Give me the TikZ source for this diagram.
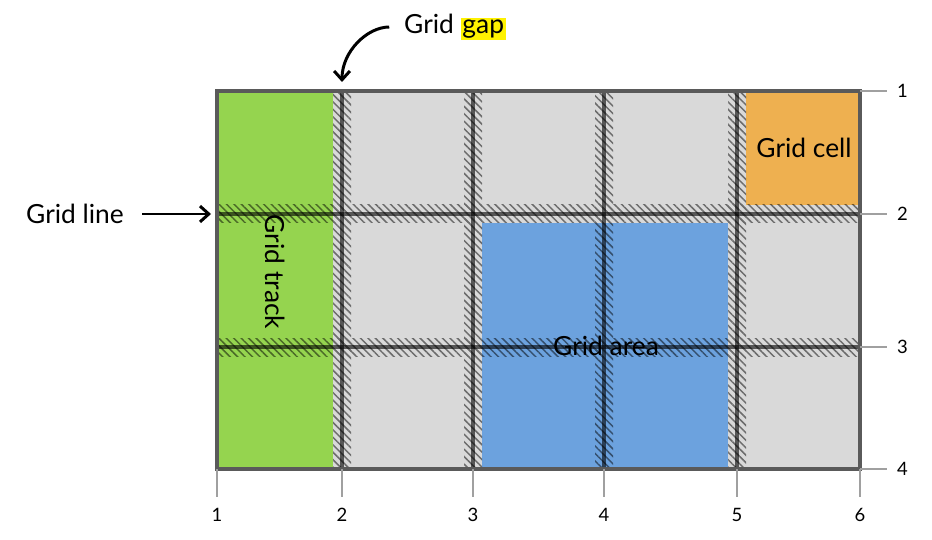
\documentclass[tikz,border=0pt]{standalone}
\usepackage{fontspec}
\setmainfont{Lato}
\usetikzlibrary{arrows.meta,patterns.meta}

\definecolor{cellgray}{HTML}{D9D9D9}
\definecolor{trackgreen}{HTML}{95D44F}
\definecolor{areablue}{HTML}{6CA2DE}
\definecolor{cellorange}{HTML}{EEB050}
\definecolor{bordergray}{HTML}{5A5A5A}
\definecolor{rulegray}{HTML}{A0A0A0}

\newcommand{\gw}{9}   % half width of a gap
\setlength{\fboxsep}{1pt}

\tikzset{
  gapband/.style={pattern={Lines[angle=-45,distance=3pt,line width=0.85pt]},
    pattern color=black},
  gridline/.style={draw=black,draw opacity=0.6,line width=1.8pt},
  border/.style={draw=bordergray,line width=1.8pt},
  ruler/.style={draw=rulegray,line width=1.1pt},
  num/.style={font=\fontsize{10.5}{12}\selectfont,inner sep=1pt},
  tag/.style={font=\fontsize{15}{18}\selectfont},
  pointer/.style={-{Straight Barb[length=5pt,width=9pt]},line width=1.7pt}
}

\begin{document}
\begin{tikzpicture}[x=0.02cm,y=-0.02cm]
  \useasboundingbox (0,0) rectangle (932,540);
  % cells
  \fill[cellgray] (217,91) rectangle (860,469);
  \fill[trackgreen] (217,91) rectangle (333,469);
  \fill[areablue] (482,223) rectangle (728,469);
  \fill[cellorange] (746,91) rectangle (860,205);
  % gaps
  \begin{scope}[transparency group,opacity=0.5]
    \foreach \x in {342,473,604,737}
      \fill[gapband] ({\x-\gw},91) rectangle ({\x+\gw},469);
    \foreach \y in {214,347}
      \fill[gapband] (217,{\y-\gw}) rectangle (860,{\y+\gw});
  \end{scope}
  % lines
  \foreach \x in {342,473,604,737}
    \draw[gridline] (\x,91) -- (\x,469);
  \foreach \y in {214,347}
    \draw[gridline] (217,\y) -- (860,\y);
  \draw[border] (217,91) rectangle (860,469);
  % numbering
  \foreach \y/\n in {91/1,214/2,347/3,469/4} {
    \draw[ruler] (860,\y) -- (887,\y);
    \node[num,anchor=west] (row\n) at (895,\y) {\n};
  }
  \foreach \x/\n in {217/1,342/2,473/3,604/4,737/5,860/6} {
    \draw[ruler] (\x,469) -- (\x,497);
    \node[num] (col\n) at (\x,515) {\n};
  }
  % labels
  \node[tag,rotate=-90] (track) at (275,272) {Grid track};
  \node[tag] (area) at (606,346) {Grid area};
  \node[tag] (cell) at (804,148) {Grid cell};
  \node[tag] (line) at (75,214) {Grid line};
  \node[tag] (gap) at (455,27) {Grid \colorbox{yellow}{gap}};
  \coordinate (linetip) at (211,214);
  \coordinate (gaptip) at (342,82);
  \draw[pointer,shorten <=7pt] (line.east) -- (linetip);
  \draw[pointer,shorten <=5pt] (gap.west) to[out=180,in=90] (gaptip);
\end{tikzpicture}
\end{document}
